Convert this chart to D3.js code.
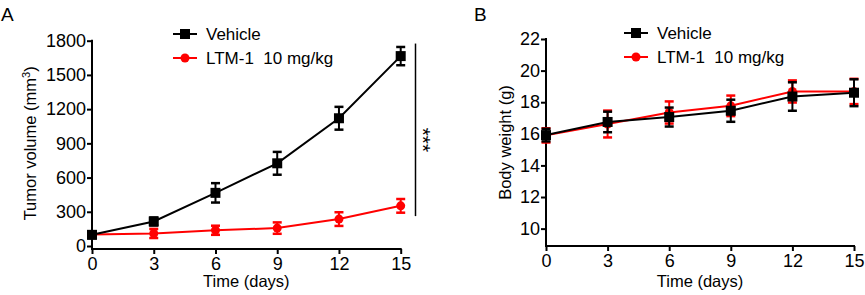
<!DOCTYPE html>
<html>
<head>
<meta charset="utf-8">
<script src="https://cdn.jsdelivr.net/npm/d3@7"></script>
<style>
  body { margin: 0; background: #fff; }
  svg { font-family: "Liberation Sans", Arial, sans-serif; }
</style>
</head>
<body>
<div id="viz"></div>
<script>
const days = [0, 3, 6, 9, 12, 15]
const seriesNames = ["Vehicle", "LTM-1  10 mg/kg"]

// panel A: tumor volume (mm3)
const tumorVehicle = [98, 215, 466, 725, 1120, 1665]
const tumorVehicleErr = [30, 35, 85, 100, 100, 80]
const tumorLtm = [100, 110, 138, 157, 236, 352]
const tumorLtmErr = [25, 40, 40, 50, 60, 60]
const tumorTicks = [0, 300, 600, 900, 1200, 1500, 1800]

// panel B: body weight (g)
const weightVehicle = [15.92, 16.75, 17.06, 17.46, 18.36, 18.6]
const weightVehicleErr = [0.4, 0.65, 0.6, 0.7, 0.9, 0.85]
const weightLtm = [15.9, 16.62, 17.35, 17.77, 18.68, 18.68]
const weightLtmErr = [0.45, 0.85, 0.7, 0.65, 0.7, 0.8]
const weightTicks = [10, 12, 14, 16, 18, 20, 22]

const colors = ["#000000", "#ff0000"]

const width = 865
const height = 295

const canvas = d3.select("#viz")
                 .append("svg")
                 .attr("width", width)
                 .attr("height", height)

function panel (opt) {
    const g = canvas.append("g")

    const xScale = d3.scaleLinear().domain([0, 15]).range(opt.xRange)
    const yScale = d3.scaleLinear().domain(opt.yDomain).range(opt.yRange)

    // y axis
    const yAxis = d3.axisLeft(yScale).tickValues(opt.yTicks).tickFormat(d3.format("d"))
                    .tickSize(5).tickPadding(1)
    const ya = g.append("g")
                .attr("transform", `translate(${opt.xRange[0]},0)`)
                .call(yAxis)
    ya.select(".domain").remove()
    ya.append("line")
      .attr("x1", 0).attr("x2", 0)
      .attr("y1", yScale(opt.yDomain[1]) - 1).attr("y2", opt.xAxisY)
      .attr("stroke", "#000").attr("stroke-width", 2)

    // x axis
    const xAxis = d3.axisBottom(xScale).tickValues(days).tickSize(5).tickPadding(2)
    const xa = g.append("g")
                .attr("transform", `translate(0,${opt.xAxisY})`)
                .call(xAxis)
    xa.select(".domain").remove()
    xa.append("line")
      .attr("x1", opt.xRange[0] - 1).attr("x2", opt.xRange[1] + 1)
      .attr("stroke", "#000").attr("stroke-width", 2)

    g.selectAll(".tick line").attr("stroke", "#000").attr("stroke-width", 2)
    g.selectAll(".tick text").attr("font-size", 18).attr("fill", "#000")
    xa.selectAll(".tick text").attr("dy", "0.75em")

    // axis titles
    g.append("text")
     .attr("x", (opt.xRange[0] + opt.xRange[1]) / 2)
     .attr("y", 287)
     .attr("text-anchor", "middle")
     .attr("font-size", 16.5)
     .text("Time (days)")

    const yl = g.append("text")
     .attr("transform", `translate(${opt.yLabelX},${(opt.yRange[0] + opt.yRange[1]) / 2}) rotate(-90)`)
     .attr("text-anchor", "middle")
     .attr("font-size", 16.5)
    opt.yLabel(yl)

    // panel letter
    g.append("text")
     .attr("x", opt.letterX).attr("y", 21)
     .attr("font-size", 19)
     .text(opt.letter)

    // series: red first, black on top
    opt.series.forEach(s => {
        const line = d3.line()
                       .x((d, j) => xScale(days[j]))
                       .y(d => yScale(d))
        const sg = g.append("g")
        sg.append("path")
          .datum(s.values)
          .attr("d", line)
          .attr("fill", "none")
          .attr("stroke", s.color)
          .attr("stroke-width", 2)

        const pts = sg.selectAll("g.pt")
                      .data(s.values.map((v, j) => ({x: days[j], y: v, e: s.err[j]})))
                      .join("g")
        pts.append("line")
           .attr("x1", d => xScale(d.x)).attr("x2", d => xScale(d.x))
           .attr("y1", d => yScale(d.y - d.e)).attr("y2", d => yScale(d.y + d.e))
           .attr("stroke", s.color).attr("stroke-width", 2)
        ;[-1, 1].forEach(k => {
            pts.append("line")
               .attr("x1", d => xScale(d.x) - 4.5).attr("x2", d => xScale(d.x) + 4.5)
               .attr("y1", d => yScale(d.y + k * d.e)).attr("y2", d => yScale(d.y + k * d.e))
               .attr("stroke", s.color).attr("stroke-width", 2.5)
        })
        if (s.shape === "square") {
            pts.append("rect")
               .attr("x", d => xScale(d.x) - 5).attr("y", d => yScale(d.y) - 5)
               .attr("width", 10).attr("height", 10)
               .attr("fill", s.color)
        } else {
            pts.append("circle")
               .attr("cx", d => xScale(d.x)).attr("cy", d => yScale(d.y))
               .attr("r", 4.5)
               .attr("fill", s.color)
        }
    })

    // legend
    const lg = g.append("g")
    opt.series.forEach(s => {
        const ly = opt.legendY + s.legendRow * 24
        lg.append("line")
          .attr("x1", opt.legendX).attr("x2", opt.legendX + 24)
          .attr("y1", ly).attr("y2", ly)
          .attr("stroke", s.color).attr("stroke-width", 2)
        if (s.shape === "square") {
            lg.append("rect")
              .attr("x", opt.legendX + 7).attr("y", ly - 5)
              .attr("width", 10).attr("height", 10)
              .attr("fill", s.color)
        } else {
            lg.append("circle")
              .attr("cx", opt.legendX + 12).attr("cy", ly)
              .attr("r", 4.5).attr("fill", s.color)
        }
        lg.append("text")
          .attr("x", opt.legendX + 33).attr("y", ly)
          .attr("dy", "0.35em")
          .attr("font-size", 17)
          .style("white-space", "pre")
          .text(s.name)
    })

    return {g, xScale, yScale}
}

// Panel A
const pA = panel({
    letter: "A", letterX: 1,
    xRange: [92, 400.7],
    yDomain: [0, 1800], yRange: [246, 40.7], xAxisY: 249,
    yTicks: tumorTicks,
    yLabelX: 36,
    yLabel: t => {
        t.append("tspan").text("Tumor volume (mm")
        t.append("tspan").attr("baseline-shift", "super").attr("font-size", 11).text("3")
        t.append("tspan").text(")")
    },
    legendX: 173, legendY: 34,
    series: [
        {name: seriesNames[1], values: tumorLtm, err: tumorLtmErr, color: colors[1], shape: "circle", legendRow: 1},
        {name: seriesNames[0], values: tumorVehicle, err: tumorVehicleErr, color: colors[0], shape: "square", legendRow: 0}
    ]
})

// significance bracket
pA.g.append("line")
  .attr("x1", 415.5).attr("x2", 415.5)
  .attr("y1", pA.yScale(1775)).attr("y2", pA.yScale(262))
  .attr("stroke", "#000").attr("stroke-width", 1.5)
pA.g.append("text")
  .attr("transform", `translate(416,${pA.yScale(930)}) rotate(90)`)
  .attr("text-anchor", "middle")
  .attr("font-size", 21)
  .text("***")

// Panel B
panel({
    letter: "B", letterX: 474,
    xRange: [546, 854],
    yDomain: [8.9, 22], yRange: [246, 39], xAxisY: 246,
    yTicks: weightTicks,
    yLabelX: 511,
    yLabel: t => t.text("Body weight (g)"),
    legendX: 624, legendY: 33,
    series: [
        {name: seriesNames[1], values: weightLtm, err: weightLtmErr, color: colors[1], shape: "circle", legendRow: 1},
        {name: seriesNames[0], values: weightVehicle, err: weightVehicleErr, color: colors[0], shape: "square", legendRow: 0}
    ]
})
</script>
</body>
</html>
